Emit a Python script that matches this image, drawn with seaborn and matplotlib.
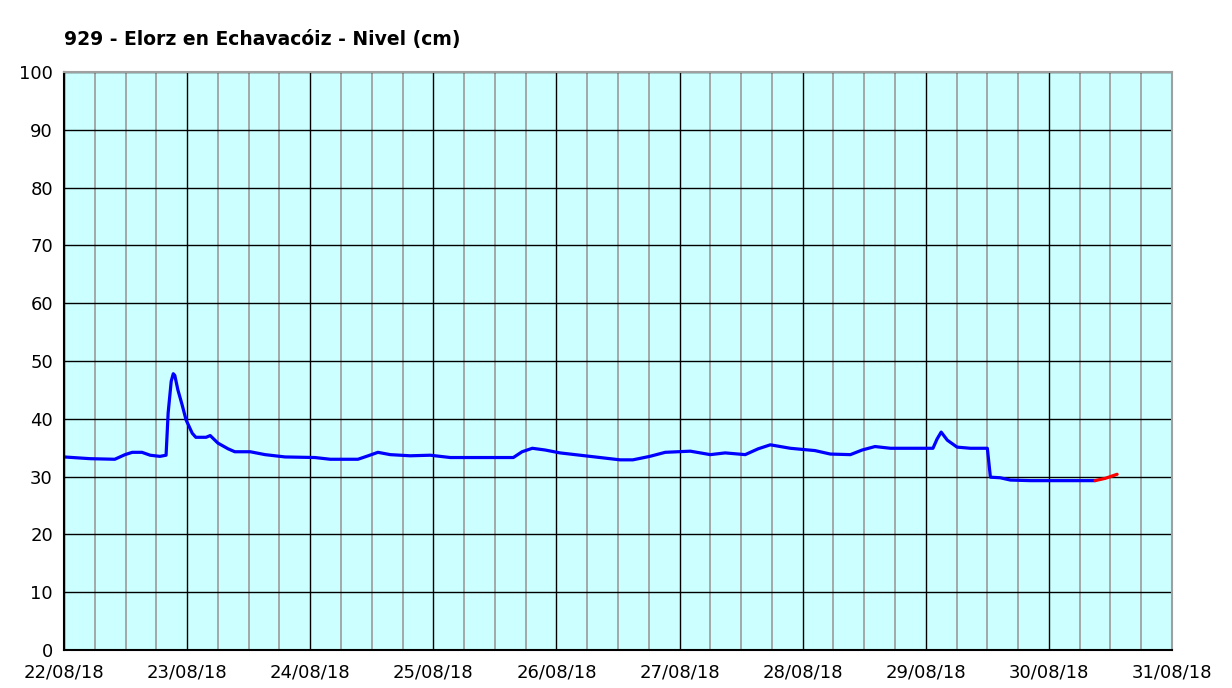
# Nivel del río Elorz en Echavacóiz
import pandas as pd
import numpy as np
import matplotlib.pyplot as plt
import matplotlib.dates as mdates
import seaborn as sns

# Data (hours since 22/08/18 00:00, level in cm)
hours = [0, 5.1, 9.9, 11.9, 13.3, 15.2, 16.8, 18.7, 19.9, 20.3, 20.9, 21.3, 21.6,
         22.2, 23.0, 23.8, 25.0, 25.7, 27.7, 28.5, 30.0, 32.0, 33.3, 36.3, 39.2,
         43.1, 48.9, 51.9, 57.3, 59.3, 61.2, 63.6, 67.5, 71.4, 75.3, 87.6, 89.3,
         91.3, 93.8, 96.7, 100.6, 104.5, 108.4, 110.9, 114.2, 117.2, 122.1, 126.0,
         128.9, 132.8, 135.3, 137.7, 141.6, 146.4, 149.4, 153.3, 155.6, 158.1,
         161.1, 169.4, 170.2, 171.0, 172.2, 174.1, 176.7, 180.0, 180.6, 182.5,
         184.5, 188.4, 201.0]
level = [33.4, 33.1, 33.0, 33.8, 34.2, 34.2, 33.7, 33.5, 33.7, 41.0, 46.5, 47.8, 47.5,
         45.0, 42.5, 39.8, 37.5, 36.8, 36.8, 37.1, 35.8, 34.8, 34.3, 34.3, 33.8,
         33.4, 33.3, 33.0, 33.0, 33.6, 34.2, 33.8, 33.6, 33.7, 33.3, 33.3, 34.3,
         34.9, 34.6, 34.1, 33.7, 33.3, 32.9, 32.9, 33.5, 34.2, 34.4, 33.8,
         34.1, 33.8, 34.8, 35.5, 34.9, 34.5, 33.9, 33.8, 34.6, 35.2,
         34.9, 34.9, 36.5, 37.7, 36.3, 35.1, 34.9, 34.9, 29.9, 29.8,
         29.4, 29.3, 29.3]
# last part (red)
hours_red = [201.0, 203.0, 205.3]
level_red = [29.3, 29.7, 30.4]

start = pd.Timestamp("2018-08-22")
df = pd.DataFrame({"fecha": start + pd.to_timedelta(hours, unit="h"), "nivel": level})
df_red = pd.DataFrame({"fecha": start + pd.to_timedelta(hours_red, unit="h"), "nivel": level_red})

sns.set_style("white")
plt.rcParams["font.family"] = ["DejaVu Sans"]
plt.rcParams["text.color"] = "black"
plt.rcParams["xtick.color"] = "black"
plt.rcParams["ytick.color"] = "black"

fig = plt.figure(figsize=(12.32, 6.88), dpi=100)
ax = fig.add_axes([64 / 1232, 1 - 650 / 688, 1108 / 1232, 578 / 688])
ax.set_facecolor("#CCFFFF")

sns.lineplot(data=df, x="fecha", y="nivel", color="#0000FF", linewidth=2.3, ax=ax)
sns.lineplot(data=df_red, x="fecha", y="nivel", color="#FF0000", linewidth=2.3, ax=ax)

ax.set_xlim(start, start + pd.Timedelta(days=9))
ax.set_ylim(0, 100)
ax.set_yticks(np.arange(0, 101, 10))
ax.xaxis.set_major_locator(mdates.DayLocator())
ax.xaxis.set_major_formatter(mdates.DateFormatter("%d/%m/%y"))
ax.xaxis.set_minor_locator(mdates.HourLocator(byhour=[6, 12, 18]))

# grid
ax.grid(which="minor", axis="x", color="#A0A0A0", linewidth=1.3)
ax.grid(which="major", axis="x", color="black", linewidth=1.0)
ax.grid(which="major", axis="y", color="black", linewidth=1.0)
ax.set_axisbelow(True)

for s in ["left", "bottom"]:
    ax.spines[s].set_color("black")
    ax.spines[s].set_linewidth(1.5)
for s in ["top", "right"]:
    ax.spines[s].set_color("#A0A0A0")
    ax.spines[s].set_linewidth(1.5)

ax.tick_params(axis="both", which="major", direction="out", length=5, width=1.2,
               color="black", labelsize=13, labelcolor="black")
ax.tick_params(axis="y", which="major", pad=3)
ax.tick_params(axis="x", which="major", pad=5)
ax.tick_params(axis="x", which="minor", length=0)
ax.set_xlabel("")
ax.set_ylabel("")

fig.text(64 / 1232, 1 - 39 / 688, "929 - Elorz en Echavacóiz - Nivel (cm)",
         fontsize=13.5, fontweight="bold", va="center", ha="left", color="black")

fig.savefig("out.png", dpi=100)
